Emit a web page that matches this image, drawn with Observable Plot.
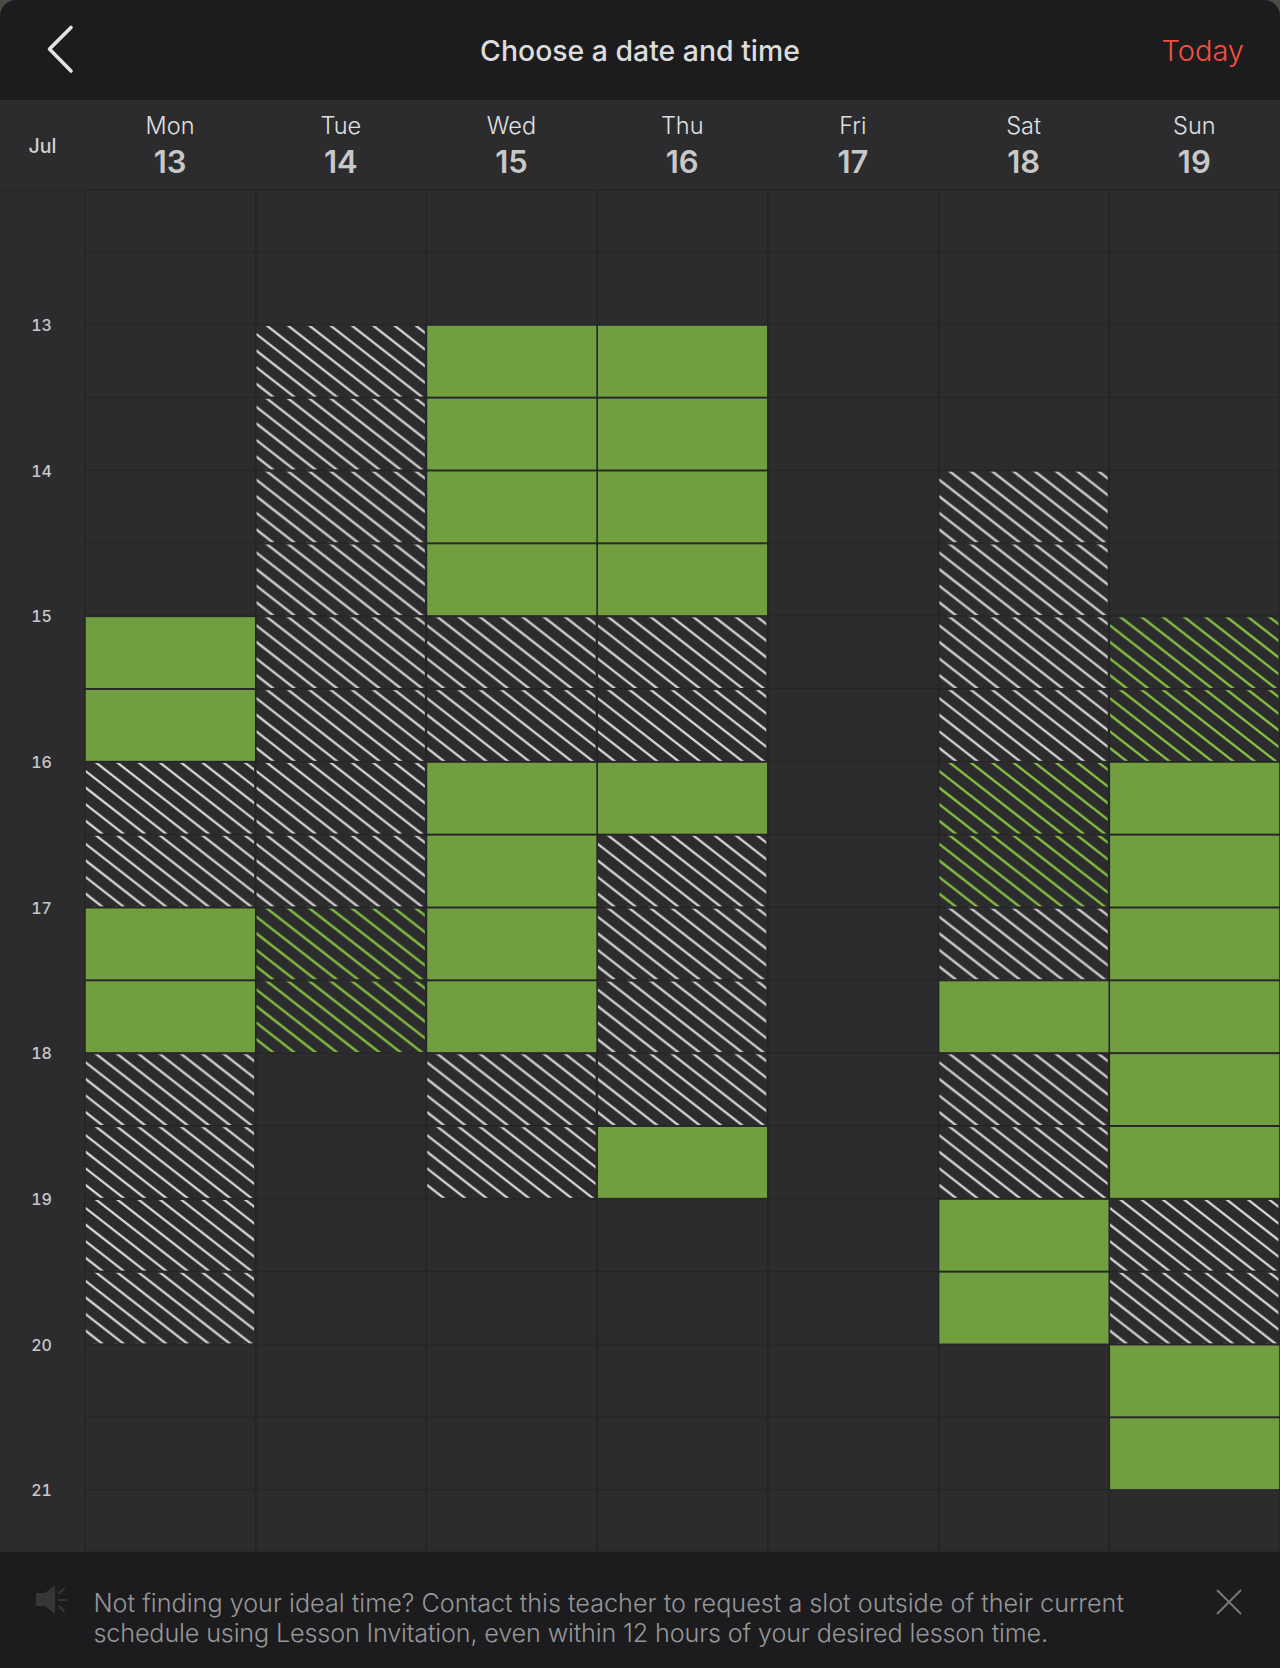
<!DOCTYPE html>
<html>
<head>
<meta charset="utf-8">
<script src="https://cdn.jsdelivr.net/npm/d3@7"></script>
<script src="https://cdn.jsdelivr.net/npm/@observablehq/plot@0.6"></script>
<style>
  html, body { margin: 0; padding: 0; background: #4b4b46; }
  body { width: 1280px; height: 1668px; overflow: hidden; position: relative; font-family: Inter, "Noto Sans", sans-serif; }
  #head { position: absolute; left: 0; top: 0; width: 1280px; height: 100px; background: #1c1c1e; border-radius: 16px 16px 0 0; }
  #head .title { position: absolute; left: 0; width: 1280px; top: 34px; line-height: 34px; text-align: center; font-size: 28.4px; font-weight: 500; color: #dcdcdc; }
  #head .today { position: absolute; right: 36px; top: 33px; line-height: 36px; font-size: 29px; font-weight: 300; color: #f5503e; }
  #head svg { position: absolute; left: 0; top: 0; }
  #chart { position: absolute; left: 0; top: 100px; background: #2c2c2e; width: 1280px; height: 1452px; }
  #chart svg { display: block; }
  #foot { position: absolute; left: 0; top: 1552px; width: 1280px; height: 116px; background: #1c1c1e; }
  #foot .msg { position: absolute; left: 93.5px; top: 37px; font-size: 25.2px; line-height: 29.5px; font-weight: 300; color: #969699; white-space: nowrap; }
  #foot .msg .second { letter-spacing: -0.16px; }
  #foot svg { position: absolute; left: 0; top: 0; }
</style>
</head>
<body>
<div id="head">
  <svg width="120" height="100"><path d="M71 27.5 L49.5 49 L71 71" fill="none" stroke="#e4e4e4" stroke-width="3.6" stroke-linecap="round" stroke-linejoin="round"/></svg>
  <div class="title">Choose a date and time</div>
  <div class="today">Today</div>
</div>
<div id="chart"></div>
<div id="foot">
  <svg width="1280" height="116">
    <path d="M36 41 H45 L55 33 V62 L45 54 H36 Z" fill="#363638"/>
    <path d="M59 41 L64 37 M59 48 H66 M59 54 L64 59" stroke="#363638" stroke-width="2.2" stroke-linecap="round"/>
    <path d="M1217 38 L1241 62 M1241 38 L1217 62" stroke="#7a7a7c" stroke-width="1.8" fill="none"/>
  </svg>
  <div class="msg">Not finding your ideal time? Contact this teacher to request a slot outside of their current<br><span class="second">schedule using Lesson Invitation, even within 12 hours of your desired lesson time.</span></div>
</div>
<script>
const days = ["Mon", "Tue", "Wed", "Thu", "Fri", "Sat", "Sun"];
const dates = [13, 14, 15, 16, 17, 18, 19];
const month = "Jul";
const hourTicks = [13, 14, 15, 16, 17, 18, 19, 20, 21];
const halfHours = [12.5, 13, 13.5, 14, 14.5, 15, 15.5, 16, 16.5, 17, 17.5, 18, 18.5, 19, 19.5, 20, 20.5, 21];
const firstVisible = 12.08;
const lastVisible = 21.43;

// half-hour slot start times, per day
const available = [
  ["Mon", [15, 15.5, 17, 17.5]],
  ["Wed", [13, 13.5, 14, 14.5, 16, 16.5, 17, 17.5]],
  ["Thu", [13, 13.5, 14, 14.5, 16, 18.5]],
  ["Sat", [17.5, 19, 19.5]],
  ["Sun", [16, 16.5, 17, 17.5, 18, 18.5, 20, 20.5]]
];
const booked = [
  ["Mon", [16, 16.5, 18, 18.5, 19, 19.5]],
  ["Tue", [13, 13.5, 14, 14.5, 15, 15.5, 16, 16.5]],
  ["Wed", [15, 15.5, 18, 18.5]],
  ["Thu", [15, 15.5, 16.5, 17, 17.5, 18]],
  ["Sat", [14, 14.5, 15, 15.5, 17, 18, 18.5]],
  ["Sun", [19, 19.5]]
];
const lessons = [
  ["Tue", [17, 17.5]],
  ["Sat", [16, 16.5]],
  ["Sun", [15, 15.5]]
];

const flat = list => list.flatMap(([day, starts]) => starts.map(start => ({day, start, end: start + 0.5})));

const cGrid = "#252527", cGreen = "#719f40", cWhite = "#d4d4d4", cLime = "#88c440";

function hatchDefs(index, scales) {
  const w = scales.x.bandwidth();
  const h = Math.abs(scales.y(13.5) - scales.y(13));
  const svgNS = "http://www.w3.org/2000/svg";
  const defs = document.createElementNS(svgNS, "defs");
  const slope = 0.78, stepY = 16.6, phaseX = 9;
  for (const [id, color] of [["hatchWhite", cWhite], ["hatchLime", cLime]]) {
    const p = document.createElementNS(svgNS, "pattern");
    p.setAttribute("id", id);
    p.setAttribute("patternUnits", "userSpaceOnUse");
    p.setAttribute("x", scales.x("Mon"));
    p.setAttribute("y", scales.y(13));
    p.setAttribute("width", w);
    p.setAttribute("height", h);
    for (let k = -14; k < 8; k++) {
      const l = document.createElementNS(svgNS, "line");
      l.setAttribute("x1", 0);
      l.setAttribute("x2", w);
      l.setAttribute("y1", -slope * phaseX + k * stepY);
      l.setAttribute("y2", slope * (w - phaseX) + k * stepY);
      l.setAttribute("stroke", color);
      l.setAttribute("stroke-width", 2.3);
      p.appendChild(l);
    }
    defs.appendChild(p);
  }
  return defs;
}

const hatchInsets = {insetLeft: 0.8, insetRight: 1.6, insetTop: 2, insetBottom: 0.2};
const greenInsets = {insetLeft: 0.8, insetRight: 0.8, insetTop: 1.8, insetBottom: 0.2};

const chart = Plot.plot({
  width: 1280,
  height: 1452,
  marginLeft: 85,
  marginRight: 0,
  marginTop: 90,
  marginBottom: 0,
  style: {background: "transparent", overflow: "visible"},
  x: {type: "band", domain: days, padding: 0, round: false, axis: null},
  y: {domain: [firstVisible, lastVisible], reverse: true, axis: null},
  marks: [
    hatchDefs,
    Plot.barY(days, {x: d => d, y1: firstVisible, y2: lastVisible, fill: "none", stroke: cGrid, strokeWidth: 1.2}),
    Plot.ruleY(halfHours, {stroke: cGrid, strokeWidth: 1.2}),
    Plot.ruleY([firstVisible], {stroke: cGrid, strokeWidth: 1.2, render: (i, s, v, d, c, next) => {
      const g = next(i, s, v, d, c);
      g.querySelectorAll("line").forEach(l => { l.setAttribute("x1", 0); l.setAttribute("x2", d.width); });
      return g;
    }}),
    Plot.barY(flat(booked), {x: "day", y1: "start", y2: "end", fill: "url(#hatchWhite)", ...hatchInsets}),
    Plot.barY(flat(lessons), {x: "day", y1: "start", y2: "end", fill: "url(#hatchLime)", ...hatchInsets}),
    Plot.barY(flat(available), {x: "day", y1: "start", y2: "end", fill: cGreen, ...greenInsets}),
    Plot.axisY({anchor: "left", ticks: hourTicks, tickSize: 0, tickFormat: d => String(d), textAnchor: "middle", dx: -35, dy: 1.5, fontSize: 16, fontWeight: 500, fill: "#c8c8c8", fontFamily: "Inter", label: null}),
    Plot.text(days, {x: d => d, dx: -0.8, frameAnchor: "top", dy: -73, text: d => d, fontSize: 23.5, fontWeight: 300, fill: "#e0e0e0", fontFamily: "Inter"}),
    Plot.text(dates, {x: (d, i) => days[i], dx: -0.8, frameAnchor: "top", dy: -39.5, text: d => String(d), fontSize: 31, fontWeight: 600, fill: "#c8c8c8", fontFamily: "Inter"}),
    Plot.text([month], {frameAnchor: "top-left", dx: -57, dy: -51, text: d => d, fontSize: 19.5, fontWeight: 500, fill: "#d0d0d0", fontFamily: "Inter"})
  ]
});
document.getElementById("chart").appendChild(chart);
</script>
</body>
</html>
